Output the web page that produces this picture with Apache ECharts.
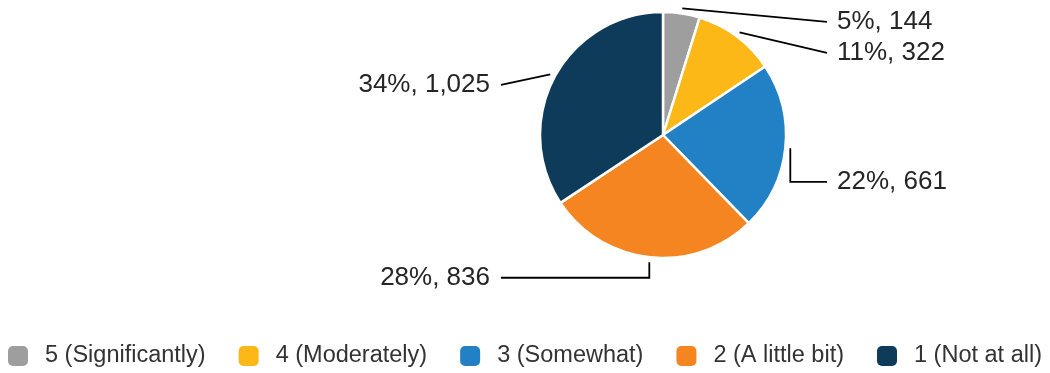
<!DOCTYPE html>
<html><head><meta charset="utf-8">
<script src="https://cdn.jsdelivr.net/npm/echarts@6/dist/echarts.min.js"></script>
<style>html,body{margin:0;padding:0;background:#fff}#c{width:1050px;height:373px}</style>
</head><body><div id="c"></div>
<script>
const categories = ['5 (Significantly)', '4 (Moderately)', '3 (Somewhat)', '2 (A little bit)', '1 (Not at all)'];
const values = [144, 322, 661, 836, 1025];
const colors = ['#9e9e9e', '#fbb817', '#2181c4', '#f58521', '#0d3b59'];

// label placement styling
const labelDrop = [13.5, 20.5, 33.5, 15.5, 10.5];   // label below leader start
const elbowLeader = [false, false, true, true, false];

const CX = 663, CY = 135, R = 123, GAP = 5;
const total = values.reduce((a, b) => a + b, 0);

const chart = echarts.init(document.getElementById('c'), null, {renderer: 'canvas'});
chart.setOption({
  animation: false,
  color: colors,
  legend: {
    bottom: 0, left: 'center',
    itemWidth: 20, itemHeight: 20, itemGap: 33,
    icon: 'roundRect',
    itemStyle: {borderWidth: 0},
    textStyle: {fontFamily: 'Liberation Sans', fontSize: 23.5, color: '#333', padding: [0, 0, 0, 12]},
    data: categories
  },
  series: [{
    type: 'pie',
    left: 0, right: 0, top: 0, bottom: 0,
    center: [CX, CY],
    radius: R,
    startAngle: 90,
    clockwise: true,
    itemStyle: {borderColor: '#fff', borderWidth: 2.5},
    label: {
      fontFamily: 'Liberation Sans', fontSize: 26, color: '#252525',
      formatter: p => Math.round(p.value / total * 100) + '%, ' + p.value.toLocaleString('en-US')
    },
    labelLine: {length: 15, length2: 20, lineStyle: {color: '#000', width: 1.8}},
    labelLayout: function (p) {
      const i = p.dataIndex;
      const p0 = p.labelLinePoints[0];
      const dx = p0[0] - CX, dy = p0[1] - CY;
      const d = Math.sqrt(dx * dx + dy * dy);
      const sx = CX + dx / d * (R + GAP), sy = CY + dy / d * (R + GAP);
      const right = dx > 0;
      const y = sy + labelDrop[i];
      const tx = right ? CX + 174 : CX - 173;
      const ex = right ? tx - 10 : tx + 11;
      const pts = elbowLeader[i] ? [[sx, sy], [sx, y], [ex, y]] : [[sx, sy], [(sx + ex) / 2, (sy + y) / 2], [ex, y]];
      return {x: tx, y: y, align: right ? 'left' : 'right', verticalAlign: 'middle', labelLinePoints: pts};
    },
    data: categories.map((n, i) => ({name: n, value: values[i]}))
  }]
});
</script></body></html>
